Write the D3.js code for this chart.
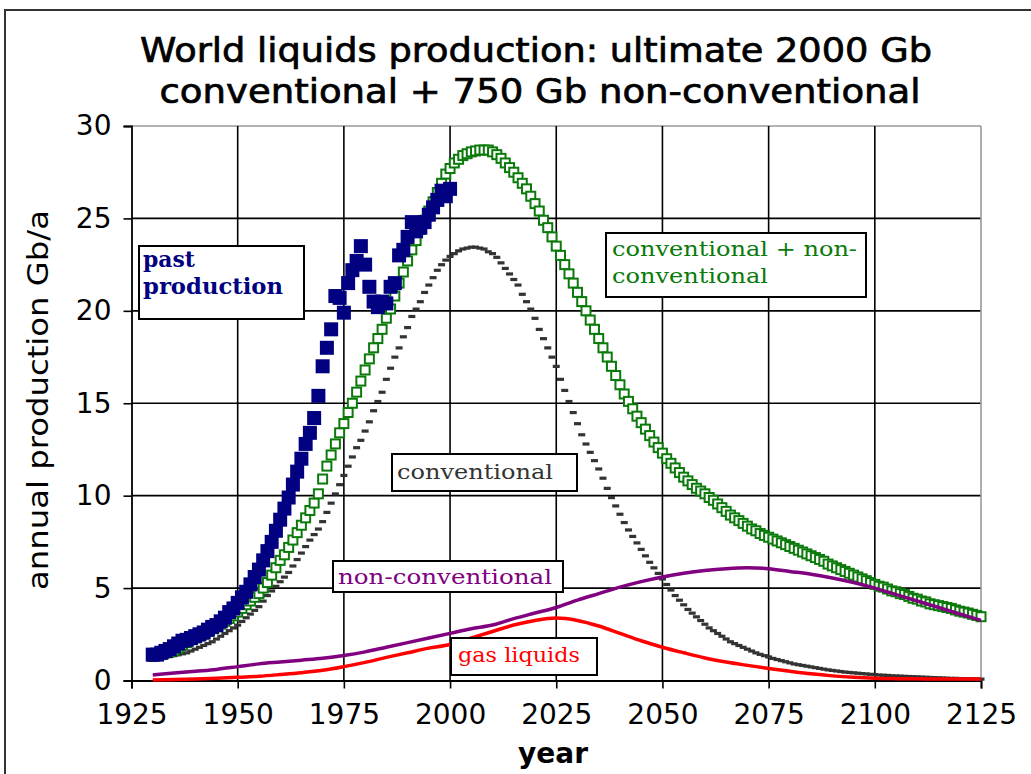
<!DOCTYPE html>
<html><head><meta charset="utf-8">
<script src="https://cdn.jsdelivr.net/npm/d3@7"></script>
<style>html,body{margin:0;padding:0;background:#fff;}svg{display:block;}</style>
</head><body>
<svg id="chart" width="1031" height="774"></svg>
<script>
// ---- DATA ----
const titleLines = ["World liquids production: ultimate 2000 Gb", "conventional + 750 Gb non-conventional"];
const xTicks = [1925, 1950, 1975, 2000, 2025, 2050, 2075, 2100, 2125];
const yTicks = [0, 5, 10, 15, 20, 25, 30];

// past production, annual 1930..2000 (Gb/a)
const pastStart = 1930;
const pastProduction = [1.4,1.4,1.5,1.6,1.7,1.85,2.0,2.15,2.2,2.3,
  2.4,2.5,2.6,2.75,2.9,3.0,3.2,3.4,3.7,3.9,
  4.2,4.5,4.8,5.2,5.6,6.0,6.5,7.0,7.5,8.1,
  8.7,9.3,9.9,10.6,11.3,12.0,12.8,13.4,14.2,15.4,
  17.0,18.0,19.0,20.8,20.7,19.9,21.5,22.2,22.7,23.5,
  22.5,21.3,20.5,20.2,20.5,20.4,21.3,21.5,23.0,23.3,
  24.0,24.8,24.3,24.5,24.8,25.2,25.6,26.0,26.5,26.2,26.6];

// conventional + non-conventional, annual 1930..2125
const totalStart = 1930;
const totalLiquids = [1.3,1.35,1.4,1.5,1.55,1.6,1.75,1.9,2.05,2.2,
  2.3,2.4,2.5,2.65,2.8,2.9,3.05,3.2,3.35,3.5,
  3.7,3.9,4.1,4.3,4.5,4.7,5.0,5.3,5.7,6.1,
  6.5,6.8,7.2,7.6,8.0,8.4,8.8,9.2,9.6,10.1,
  10.9,11.6,12.2,12.8,13.4,13.9,14.5,15.0,15.6,16.2,
  16.8,17.4,18.0,18.5,19.0,19.6,20.1,20.8,21.5,22.1,
  22.7,23.3,23.8,24.4,24.9,25.4,25.9,26.4,26.9,27.4,
  27.7,28.0,28.2,28.4,28.5,28.6,28.65,28.7,28.7,28.7,
  28.6,28.45,28.25,28.0,27.75,27.5,27.2,26.9,26.6,26.2,
  25.8,25.4,24.9,24.5,24.0,23.5,23.0,22.5,22.0,21.5,
  21.0,20.5,20.0,19.5,19.0,18.5,18.0,17.5,17.0,16.5,
  16.0,15.5,15.1,14.7,14.3,13.95,13.6,13.25,12.9,12.6,
  12.3,12.0,11.75,11.5,11.25,11.0,10.8,10.6,10.4,10.25,
  10.1,9.9,9.75,9.55,9.35,9.15,8.95,8.8,8.65,8.5,
  8.35,8.2,8.1,7.95,7.85,7.75,7.65,7.55,7.45,7.35,
  7.25,7.15,7.05,6.95,6.85,6.75,6.65,6.55,6.45,6.3,
  6.2,6.1,6.0,5.9,5.8,5.7,5.6,5.5,5.4,5.3,
  5.2,5.1,5.05,4.95,4.85,4.8,4.7,4.65,4.55,4.45,
  4.4,4.3,4.25,4.15,4.1,4.05,4.0,3.95,3.9,3.82,
  3.75,3.7,3.65,3.58,3.52,3.45];

// conventional, annual 1930..2125
const convStart = 1930;
const conventional = [1.1,1.15,1.2,1.25,1.3,1.35,1.4,1.45,1.5,1.6,
  1.7,1.8,1.9,2.0,2.1,2.25,2.4,2.55,2.7,2.85,
  3.0,3.2,3.4,3.6,3.8,4.0,4.3,4.6,4.85,5.1,
  5.35,5.6,5.85,6.2,6.55,6.9,7.25,7.6,7.9,8.2,
  8.6,9.1,9.6,10.1,10.6,11.1,11.6,12.1,12.6,13.0,
  13.5,14.0,14.6,15.1,15.6,16.3,16.9,17.5,18.0,18.6,
  19.1,19.7,20.1,20.5,21.0,21.4,21.8,22.2,22.5,22.75,
  22.95,23.1,23.25,23.35,23.4,23.45,23.45,23.4,23.35,23.2,
  23.1,22.9,22.6,22.3,22.0,21.7,21.4,20.9,20.5,20.1,
  19.6,19.0,18.5,18.0,17.5,17.0,16.3,15.7,15.1,14.5,
  13.9,13.3,12.8,12.35,11.9,11.45,10.95,10.4,9.9,9.45,
  9.0,8.55,8.15,7.8,7.45,7.1,6.75,6.4,6.1,5.8,
  5.5,5.2,4.9,4.6,4.35,4.1,3.85,3.65,3.45,3.25,
  3.05,2.85,2.7,2.55,2.4,2.25,2.1,2.0,1.9,1.8,
  1.7,1.6,1.5,1.42,1.35,1.28,1.2,1.14,1.08,1.02,
  0.96,0.9,0.86,0.82,0.78,0.74,0.7,0.66,0.62,0.58,
  0.55,0.52,0.49,0.46,0.44,0.42,0.4,0.38,0.36,0.34,
  0.32,0.3,0.29,0.28,0.26,0.25,0.24,0.23,0.22,0.21,
  0.2,0.19,0.18,0.17,0.16,0.15,0.14,0.13,0.12,0.12,
  0.11,0.1,0.1,0.09,0.09,0.08];

// non-conventional and gas liquids, 5-yearly 1930..2125
const lineYears = [1930,1935,1940,1945,1950,1955,1960,1965,1970,1975,1980,1985,1990,1995,2000,2005,2010,2015,2020,2025,
  2030,2035,2040,2045,2050,2055,2060,2065,2070,2075,2080,2085,2090,2095,2100,2105,2110,2115,2120,2125];
const nonConventional = [0.3,0.4,0.5,0.6,0.75,0.9,1.0,1.1,1.2,1.35,1.55,1.8,2.05,2.3,2.55,2.8,3.0,3.35,3.65,3.95,
  4.35,4.7,5.05,5.35,5.6,5.8,5.95,6.05,6.1,6.05,5.9,5.75,5.55,5.3,5.0,4.65,4.3,3.95,3.6,3.25];
const gasLiquids = [0.03,0.05,0.08,0.12,0.17,0.23,0.32,0.42,0.55,0.75,0.98,1.25,1.5,1.75,1.95,2.3,2.65,3.0,3.25,3.38,
  3.25,2.95,2.55,2.15,1.8,1.5,1.22,1.0,0.82,0.65,0.5,0.36,0.25,0.17,0.12,0.1,0.09,0.08,0.08,0.08];

const labels = {
  past: ["past", "production"],
  total: ["conventional + non-", "conventional"],
  conv: "conventional",
  nonconv: "non-conventional",
  gas: "gas liquids",
  yTitle: "annual production  Gb/a",
  xTitle: "year"
};

// ---- DRAW ----
const svg = d3.select("#chart");
const W = 1031, H = 774;
const x = d3.scaleLinear().domain([1925, 2125]).range([131.5, 981]);
const y = d3.scaleLinear().domain([0, 30]).range([680.5, 126]);

svg.append("rect").attr("width", W).attr("height", H).attr("fill", "#fff");
// outer chart frame
svg.append("rect").attr("x", 5).attr("y", 10).attr("width", 1040).attr("height", 790)
  .attr("fill", "none").attr("stroke", "#333").attr("stroke-width", 2);

// title
const sans = "'DejaVu Sans', Verdana, sans-serif";
const serif = "'DejaVu Serif', serif";
svg.append("text").attr("x", 536).attr("y", 62).attr("text-anchor", "middle")
  .attr("font-family", sans).attr("font-size", 33).attr("fill", "#000")
  .attr("stroke", "#000").attr("stroke-width", 0.7)
  .attr("textLength", 792).attr("lengthAdjust", "spacingAndGlyphs").text(titleLines[0]);
svg.append("text").attr("x", 540).attr("y", 103).attr("text-anchor", "middle")
  .attr("font-family", sans).attr("font-size", 33).attr("fill", "#000")
  .attr("stroke", "#000").attr("stroke-width", 0.7)
  .attr("textLength", 761).attr("lengthAdjust", "spacingAndGlyphs").text(titleLines[1]);

// gridlines
const grid = svg.append("g");
grid.selectAll("line.h").data(yTicks.filter(d => d > 0)).join("line")
  .attr("x1", x(1925)).attr("x2", x(2125)).attr("y1", d => y(d)).attr("y2", d => y(d))
  .attr("stroke", d => d === 30 ? "#999" : "#000").attr("stroke-width", 1.6);
grid.selectAll("line.v").data(xTicks.filter(d => d > 1925)).join("line")
  .attr("y1", y(0)).attr("y2", y(30)).attr("x1", d => x(d)).attr("x2", d => x(d))
  .attr("stroke", d => d === 2125 ? "#999" : "#000").attr("stroke-width", 1.6);

// axes
const xAxis = d3.axisBottom(x).tickValues(xTicks).tickSize(8).tickPadding(16).tickFormat(d3.format("d"));
const gx = svg.append("g").attr("transform", `translate(0,${y(0)})`).call(xAxis);
gx.select(".domain").attr("stroke", "#000").attr("stroke-width", 1.8);
gx.selectAll(".tick line").attr("stroke", "#000").attr("stroke-width", 1.6);
gx.selectAll(".tick text").attr("font-family", sans).attr("font-size", 28).attr("fill", "#000");

const yAxis = d3.axisLeft(y).tickValues(yTicks).tickSize(8).tickPadding(12);
const gy = svg.append("g").attr("transform", `translate(${x(1925)},0)`).call(yAxis);
gy.select(".domain").attr("stroke", "#000").attr("stroke-width", 1.8);
gy.selectAll(".tick line").attr("stroke", "#000").attr("stroke-width", 1.6);
gy.selectAll(".tick text").attr("font-family", sans).attr("font-size", 28).attr("fill", "#000");

// axis titles
svg.append("text").attr("transform", "translate(48,400) rotate(-90)").attr("text-anchor", "middle")
  .attr("font-family", sans).attr("font-size", 29).attr("fill", "#000")
  .attr("textLength", 380).attr("lengthAdjust", "spacingAndGlyphs").text(labels.yTitle);
svg.append("text").attr("x", 553).attr("y", 763).attr("text-anchor", "middle")
  .attr("font-family", sans).attr("font-weight", "bold").attr("font-size", 28).attr("fill", "#000")
  .text(labels.xTitle);

// series data
const convData = conventional.map((v, i) => ({yr: convStart + i, v}));
const totalData = totalLiquids.map((v, i) => ({yr: totalStart + i, v}));
const pastData = pastProduction.map((v, i) => ({yr: pastStart + i, v}));
const ncData = lineYears.map((yr, i) => ({yr, v: nonConventional[i]}));
const gasData = lineYears.map((yr, i) => ({yr, v: gasLiquids[i]}));

// conventional dashes
svg.append("g").selectAll("rect").data(convData).join("rect")
  .attr("x", d => x(d.yr) - 3.5).attr("y", d => y(d.v) - 1.5).attr("width", 7).attr("height", 3.2)
  .attr("fill", "#333");

// total open squares
svg.append("g").selectAll("rect").data(totalData).join("rect")
  .attr("x", d => x(d.yr) - 4.5).attr("y", d => y(d.v) - 4.5).attr("width", 9).attr("height", 9)
  .attr("fill", "#fff").attr("stroke", "#0a7a0a").attr("stroke-width", 2);

const line = d3.line().x(d => x(d.yr)).y(d => y(d.v)).curve(d3.curveMonotoneX);
svg.append("path").datum(ncData).attr("d", line).attr("fill", "none")
  .attr("stroke", "#800080").attr("stroke-width", 3.5);
svg.append("path").datum(gasData).attr("d", line).attr("fill", "none")
  .attr("stroke", "#ff0000").attr("stroke-width", 3.5);

// past production filled squares
svg.append("g").selectAll("rect").data(pastData).join("rect")
  .attr("x", d => x(d.yr) - 7).attr("y", d => y(d.v) - 7).attr("width", 14).attr("height", 14)
  .attr("fill", "#000080");

// label boxes
function box(x0, y0, w, h) {
  svg.append("rect").attr("x", x0).attr("y", y0).attr("width", w).attr("height", h)
    .attr("fill", "#fff").attr("stroke", "#000").attr("stroke-width", 2);
}
function label(t, tx, ty, color, len, bold, size) {
  svg.append("text").attr("x", tx).attr("y", ty).attr("font-family", serif)
    .attr("font-size", size || 21).attr("font-weight", bold ? "bold" : "normal").attr("fill", color)
    .attr("textLength", len).attr("lengthAdjust", "spacingAndGlyphs").text(t);
}
box(139, 246, 165, 73);
label(labels.past[0], 143, 267, "#000080", 52, true, 22);
label(labels.past[1], 143, 294, "#000080", 140, true, 22);

box(606, 233, 260, 64);
label(labels.total[0], 612, 256, "#0a7a0a", 245);
label(labels.total[1], 612, 283, "#0a7a0a", 156);

box(392, 454, 185, 37);
label(labels.conv, 397, 479, "#333", 156);

box(333, 561, 230, 31);
label(labels.nonconv, 338, 584, "#800080", 214);

box(451, 638, 146, 37);
label(labels.gas, 458, 662, "#ff0000", 122);
</script>
</body></html>
